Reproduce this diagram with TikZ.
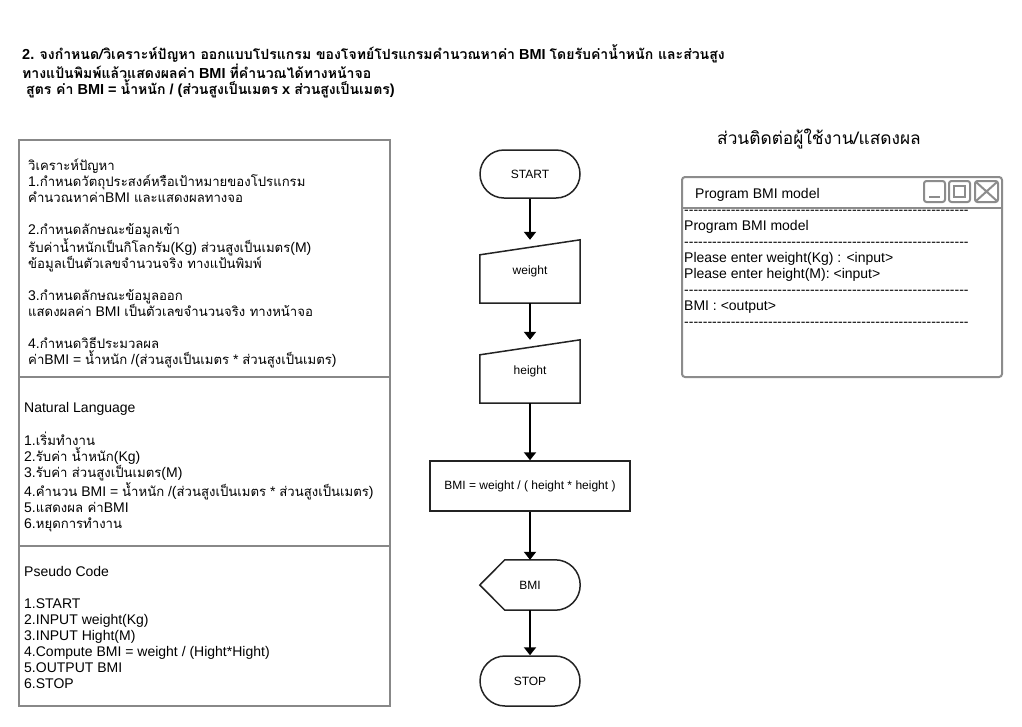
\documentclass[tikz,border=0pt]{standalone}
\usepackage{fontspec}
\setmainfont{Liberation Sans}
\newfontfamily\plainsans{Liberation Sans}
\newfontfamily\thaifont[Script=Thai,Scale=0.94]{Loma}
\newfontfamily\thaiheadfont[Script=Thai,Scale=0.97]{Loma}
\newcommand{\tht}[1]{{\thaifont #1}}
\newcommand{\thh}[1]{{\thaiheadfont #1}}
\newcommand{\dashline}{{\plainsans -------------------------------------------------------------}}
\usetikzlibrary{arrows.meta}
\definecolor{boxgray}{RGB}{136,136,136}
\definecolor{wingray}{RGB}{140,140,140}
\definecolor{shapeline}{RGB}{35,35,35}
\tikzset{
  lbox/.style={draw=boxgray, line width=2pt},
  winline/.style={draw=wingray, line width=2pt},
  txtblock/.style={inner sep=0pt, anchor=north west, align=left, font=\fontsize{14}{16}\selectfont},
  hdr/.style={inner sep=0pt, anchor=north west, align=left, font=\fontsize{14.5}{16.5}\selectfont\bfseries},
  flowlbl/.style={font=\fontsize{12}{14}\selectfont, inner sep=0pt},
  terminal/.style={flowlbl, draw=shapeline, line width=1.5pt, rounded corners=24pt, minimum width=100pt, minimum height=48pt},
  iobox/.style={flowlbl, minimum width=100pt, minimum height=63pt},
  procbox/.style={flowlbl, draw=shapeline, line width=1.5pt, minimum width=200pt, minimum height=50pt},
  dispbox/.style={flowlbl, minimum width=100pt, minimum height=50pt},
  shapepath/.style={draw=shapeline, line width=1.5pt, line join=miter},
  flowarrow/.style={draw=black, line width=2pt, -{Triangle[width=12pt,length=8pt]}}
}
\begin{document}
\begin{tikzpicture}[x=1pt,y=-1pt]
\fill[white] (0,0) rectangle (1022,726);
\useasboundingbox (0,0) rectangle (1022,726);

% header
\node[hdr] (header) at (22,44) {\rule{0pt}{14pt}2. \thh{จงกำหนด/วิเคราะห์ปัญหา ออกแบบโปรแกรม ของโจทย์โปรแกรมคำนวณหาค่า} BMI \thh{โดยรับค่าน้ำหนัก และส่วนสูง}\\
\thh{ทางแป้นพิมพ์แล้วแสดงผลค่า} BMI \thh{ที่คำนวณได้ทางหน้าจอ}\\
\hspace{4pt}\thh{สูตร ค่า} BMI = \thh{น้ำหนัก} / (\thh{ส่วนสูงเป็นเมตร} x \thh{ส่วนสูงเป็นเมตร})};

% left box
\draw[lbox] (19,140) rectangle (390,706);
\draw[lbox] (19,377) -- (390,377);
\draw[lbox] (19,546) -- (390,546);

\node[txtblock] (analysis) at (28,156) {\rule{0pt}{14pt}\tht{วิเคราะห์ปัญหา}\\
1.\tht{กำหนดวัตถุประสงค์หรือเป้าหมายของโปรแกรม}\\
\tht{คำนวณหาค่า}BMI \tht{และแสดงผลทางจอ}\\[16pt]
2.\tht{กำหนดลักษณะข้อมูลเข้า}\\
\tht{รับค่าน้ำหนักเป็นกิโลกรัม}(Kg) \tht{ส่วนสูงเป็นเมตร}(M)\\
\tht{ข้อมูลเป็นตัวเลขจำนวนจริง ทางแป้นพิมพ์}\\[16pt]
3.\tht{กำหนดลักษณะข้อมูลออก}\\
\tht{แสดงผลค่า} BMI \tht{เป็นตัวเลขจำนวนจริง ทางหน้าจอ}\\[16pt]
4.\tht{กำหนดวิธีประมวลผล}\\
\tht{ค่า}BMI = \tht{น้ำหนัก} /(\tht{ส่วนสูงเป็นเมตร} * \tht{ส่วนสูงเป็นเมตร})};

\node[txtblock] (natural) at (24,398) {\rule{0pt}{14pt}Natural Language\\[16pt]
1.\tht{เริ่มทำงาน}\\
2.\tht{รับค่า น้ำหนัก}(Kg)\\
3.\tht{รับค่า ส่วนสูงเป็นเมตร}(M)\\
4.\tht{คำนวน} BMI = \tht{น้ำหนัก} /(\tht{ส่วนสูงเป็นเมตร} * \tht{ส่วนสูงเป็นเมตร})\\
5.\tht{แสดงผล ค่า}BMI\\
6.\tht{หยุดการทำงาน}};

\node[txtblock] (pseudo) at (24,562) {\rule{0pt}{14pt}Pseudo Code\\[16pt]
1.START\\
2.INPUT weight(Kg)\\
3.INPUT Hight(M)\\
4.Compute BMI = weight / (Hight*Hight)\\
5.OUTPUT BMI\\
6.STOP};

% flowchart
\node[terminal] (start) at (530,174) {START};
\node[iobox] (weight) at (530,271.5) {weight};
\draw[shapepath] ([yshift=-15pt]weight.north west) -- (weight.north east) -- (weight.south east) -- (weight.south west) -- cycle;
\node[iobox] (height) at (530,371.5) {height};
\draw[shapepath] ([yshift=-15pt]height.north west) -- (height.north east) -- (height.south east) -- (height.south west) -- cycle;
\node[procbox] (calc) at (530,486) {BMI = weight / ( height * height )};
\node[dispbox] (disp) at (530,585) {BMI};
\draw[shapepath] (disp.west) -- ([xshift=25pt]disp.north west) -- ([xshift=-25pt]disp.north east)
  .. controls ([xshift=-11.2pt]disp.north east) and ([yshift=-11.2pt]disp.north east) .. (disp.east)
  .. controls ([yshift=11.2pt]disp.south east) and ([xshift=-11.2pt]disp.south east) .. ([xshift=-25pt]disp.south east)
  -- ([xshift=25pt]disp.south west) -- cycle;
\node[terminal, rounded corners=25pt, minimum height=50pt] (stop) at (530,681) {STOP};

\draw[flowarrow] (start.south) -- (weight.north);
\draw[flowarrow] (weight.south) -- (height.north);
\draw[flowarrow] (height.south) -- (calc.north);
\draw[flowarrow] (calc.south) -- (disp.north);
\draw[flowarrow] (disp.south) -- (stop.north);

% user interface
\node[anchor=base west, inner sep=0pt, font=\fontsize{18.4}{20}\selectfont] (uititle) at (717,144) {\tht{ส่วนติดต่อผู้ใช้งาน/แสดงผล}};
\draw[winline, rounded corners=3pt] (682,177) rectangle (1002,377);
\draw[winline] (682,208) -- (1002,208);
\node[anchor=base west, inner sep=0pt, font=\fontsize{14}{16}\selectfont] (wintitle) at (695,198) {Program BMI model};
\draw[winline, rounded corners=2.5pt] (924,181) rectangle (945,202);
\draw[winline] (929,197) -- (940,197);
\draw[winline, rounded corners=2.5pt] (949,181) rectangle (970,202);
\draw[winline] (954,186) rectangle (965,197);
\draw[winline, rounded corners=2.5pt] (975,181) rectangle (998,202);
\draw[winline] (976,182) -- (997,201) (997,182) -- (976,201);
\node[txtblock] (wincontent) at (684,200) {\rule{0pt}{14pt}\dashline\\
Program BMI model\\
\dashline\\
Please enter weight(Kg) : <input>\\
Please enter height(M): <input>\\
\dashline\\
BMI : <output>\\
\dashline};
\end{tikzpicture}
\end{document}
